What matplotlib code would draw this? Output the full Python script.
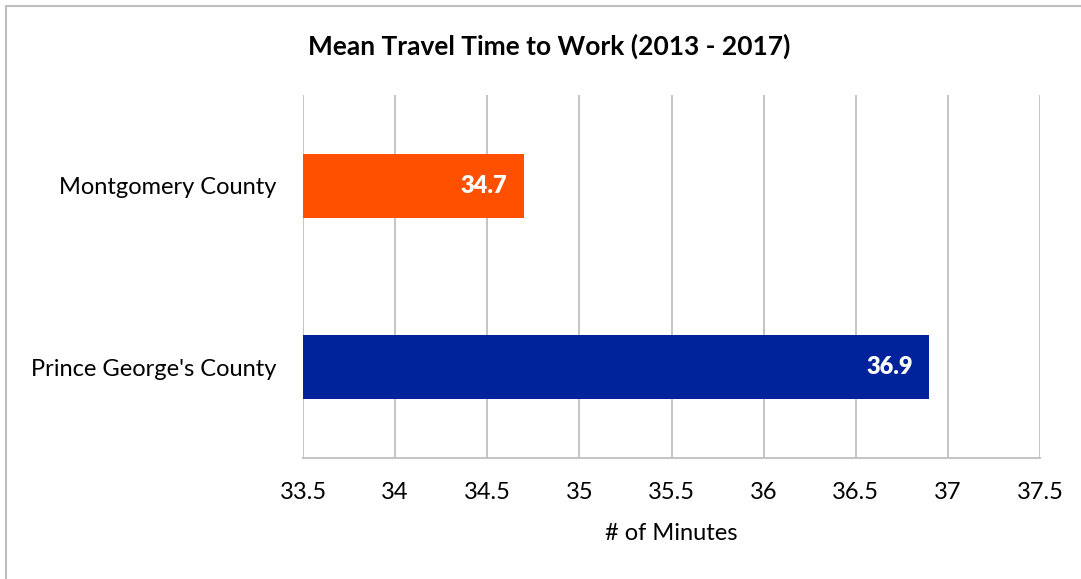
import matplotlib
matplotlib.use("Agg")
import matplotlib.pyplot as plt
from matplotlib.patches import Rectangle

# Data
counties = ["Prince George's County", "Montgomery County"]
minutes = [36.9, 34.7]
bar_colors = ["#00239C", "#FF5000"]
x_ticks = [33.5, 34, 34.5, 35, 35.5, 36, 36.5, 37, 37.5]

plt.rcParams['font.family'] = ['Lato', 'DejaVu Sans']

fig = plt.figure(figsize=(10.81, 5.79), dpi=100)
ax = fig.add_axes([303 / 1081, 1 - 458 / 579, 737 / 1081, 363 / 579])

# outer chart border (only left/top visible in the reference)
fig.patches.append(Rectangle((6 / 1081, -0.05), 1.2, 1 - 6 / 579 + 0.05,
                             transform=fig.transFigure, fill=False,
                             edgecolor="#BFBFBF", linewidth=1.5))

y = list(range(len(counties)))
ax.barh(y, [m - x_ticks[0] for m in minutes], left=x_ticks[0], height=0.355,
        color=bar_colors, zorder=3)

for yi, m in zip(y, minutes):
    ax.text(m - 0.09, yi, f"{m}", ha="right", va="center", color="white",
            fontsize=17, fontweight="heavy", zorder=4)

ax.set_xlim(x_ticks[0], x_ticks[-1])
ax.set_ylim(-0.5, 1.5)
ax.set_xticks(x_ticks)
ax.set_xticklabels([f"{t:g}" for t in x_ticks], fontsize=17)
ax.set_yticks(y)
ax.set_yticklabels(counties, fontsize=17)
ax.tick_params(axis="both", length=0)
ax.tick_params(axis="x", pad=17)
ax.tick_params(axis="y", pad=19)

ax.grid(axis="x", color="#BFBFBF", linewidth=1.3, zorder=0)
for s in ["top", "right", "left"]:
    ax.spines[s].set_visible(False)
ax.spines["bottom"].set_color("#BFBFBF")
ax.spines["bottom"].set_linewidth(1.3)

ax.set_xlabel("# of Minutes", fontsize=17, labelpad=15)
fig.text(549 / 1081, 1 - 46 / 579, "Mean Travel Time to Work (2013 - 2017)",
         ha="center", va="center", fontsize=19, fontweight="bold")

fig.savefig("out.png", dpi=100)
